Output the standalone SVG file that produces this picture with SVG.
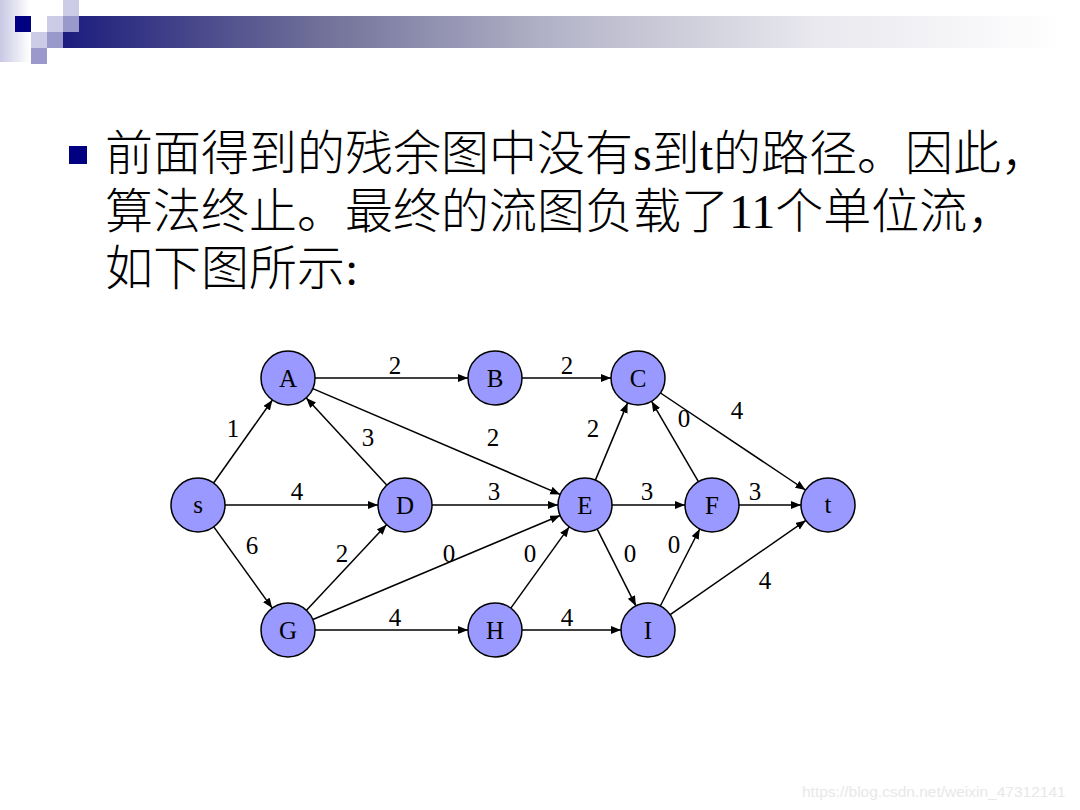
<svg xmlns="http://www.w3.org/2000/svg" width="1080" height="810" viewBox="0 0 1080 810">
<defs>
<linearGradient id="bar" x1="0" y1="0" x2="1" y2="0">
<stop offset="0" stop-color="#1C1C7E"/>
<stop offset="0.25" stop-color="#6E6E98"/>
<stop offset="0.5" stop-color="#B6B6CA"/>
<stop offset="0.75" stop-color="#E8E8EE"/>
<stop offset="1" stop-color="#FFFFFF"/>
</linearGradient>
<linearGradient id="edge" x1="0" y1="0" x2="1" y2="0">
<stop offset="0" stop-color="#C8C8E4"/>
<stop offset="1" stop-color="#FFFFFF"/>
</linearGradient>
<marker id="arr" markerUnits="userSpaceOnUse" markerWidth="11" markerHeight="9" refX="10" refY="4" orient="auto">
<path d="M0,0 L10,4 L0,8 z" fill="#000"/>
</marker>
</defs>
<style>
.node circle{fill:#9999FF;stroke:#000;stroke-width:1.5}
.node text{font-family:"Liberation Serif",serif;font-size:25px;text-anchor:middle;fill:#000}
#connectors line{stroke:#000;stroke-width:1.5;marker-end:url(#arr)}
.lbl{font-family:"Liberation Serif",serif;font-size:25px;text-anchor:middle;fill:#000}
.body{font-family:"Liberation Serif","Noto Sans CJK SC",serif;font-size:48px;fill:#000;font-weight:300}
</style>
<rect width="1080" height="810" fill="#FFFFFF"/>
<g id="header">
<rect x="0" y="0" width="30" height="62" fill="url(#edge)"/>
<rect x="63" y="16" width="1000" height="32" fill="url(#bar)"/>
<rect x="15" y="16" width="16" height="16" fill="#000080"/>
<rect x="47" y="16" width="16" height="16" fill="#CCCCE6"/>
<rect x="63" y="0" width="16" height="16" fill="#CCCCE6"/>
<rect x="63" y="16" width="16" height="16" fill="#9999CC"/>
<rect x="31" y="32" width="16" height="16" fill="#CCCCE6"/>
<rect x="47" y="32" width="16" height="16" fill="#9999CC"/>
<rect x="31" y="48" width="16" height="16" fill="#9999CC"/>
</g>
<g id="text">
<rect x="69" y="146" width="18" height="18" fill="#000080"/>
<text class="body" x="105" y="170">前面得到的残余图中没有s到t的路径。因此，</text>
<text class="body" x="105" y="228">算法终止。最终的流图负载了11个单位流，</text>
<text class="body" x="105" y="285">如下图所示:</text>
</g>
<g id="connectors">
<line x1="315" y1="378" x2="468" y2="378"/>
<line x1="522" y1="378" x2="611" y2="378"/>
<line x1="660.5" y1="393" x2="805.5" y2="490"/>
<line x1="213.6" y1="483" x2="272.4" y2="400"/>
<line x1="386.7" y1="485.1" x2="306.3" y2="397.9"/>
<line x1="312.8" y1="388.6" x2="560.2" y2="494.4"/>
<line x1="595.4" y1="480.1" x2="627.6" y2="402.9"/>
<line x1="698.4" y1="481.7" x2="651.6" y2="401.3"/>
<line x1="225" y1="505" x2="378" y2="505"/>
<line x1="432" y1="505" x2="558" y2="505"/>
<line x1="612" y1="505" x2="685" y2="505"/>
<line x1="739" y1="505" x2="801" y2="505"/>
<line x1="213.8" y1="526.9" x2="272.2" y2="608.1"/>
<line x1="306.5" y1="610.3" x2="386.5" y2="524.7"/>
<line x1="312.9" y1="619.5" x2="560.1" y2="515.5"/>
<line x1="510.8" y1="608.1" x2="569.2" y2="526.9"/>
<line x1="597.2" y1="529.1" x2="635.9" y2="605.9"/>
<line x1="660.3" y1="606" x2="699.7" y2="529"/>
<line x1="670.2" y1="614.6" x2="805.8" y2="520.4"/>
<line x1="315" y1="630" x2="468" y2="630"/>
<line x1="522" y1="630" x2="621" y2="630"/>
</g>
<g id="labels">
<text class="lbl" x="395" y="374">2</text>
<text class="lbl" x="567" y="374">2</text>
<text class="lbl" x="737" y="419">4</text>
<text class="lbl" x="233" y="437">1</text>
<text class="lbl" x="368" y="446">3</text>
<text class="lbl" x="493" y="446">2</text>
<text class="lbl" x="593" y="437">2</text>
<text class="lbl" x="684" y="427">0</text>
<text class="lbl" x="297" y="500">4</text>
<text class="lbl" x="494" y="500">3</text>
<text class="lbl" x="647" y="500">3</text>
<text class="lbl" x="755" y="500">3</text>
<text class="lbl" x="252" y="554">6</text>
<text class="lbl" x="342" y="562">2</text>
<text class="lbl" x="449" y="562">0</text>
<text class="lbl" x="530" y="562">0</text>
<text class="lbl" x="630" y="562">0</text>
<text class="lbl" x="674" y="553">0</text>
<text class="lbl" x="765" y="589">4</text>
<text class="lbl" x="395" y="626">4</text>
<text class="lbl" x="567" y="626">4</text>
</g>
<g id="node-A" class="node"><circle cx="288" cy="378" r="27"/><text x="288" y="387">A</text></g>
<g id="node-B" class="node"><circle cx="495" cy="378" r="27"/><text x="495" y="387">B</text></g>
<g id="node-C" class="node"><circle cx="638" cy="378" r="27"/><text x="638" y="387">C</text></g>
<g id="node-s" class="node"><circle cx="198" cy="505" r="27"/><text x="198" y="513">s</text></g>
<g id="node-D" class="node"><circle cx="405" cy="505" r="27"/><text x="405" y="514">D</text></g>
<g id="node-E" class="node"><circle cx="585" cy="505" r="27"/><text x="585" y="514">E</text></g>
<g id="node-F" class="node"><circle cx="712" cy="505" r="27"/><text x="712" y="514">F</text></g>
<g id="node-t" class="node"><circle cx="828" cy="505" r="27"/><text x="828" y="513">t</text></g>
<g id="node-G" class="node"><circle cx="288" cy="630" r="27"/><text x="288" y="639">G</text></g>
<g id="node-H" class="node"><circle cx="495" cy="630" r="27"/><text x="495" y="639">H</text></g>
<g id="node-I" class="node"><circle cx="648" cy="630" r="27"/><text x="648" y="639">I</text></g>
<text x="802" y="797" font-family="Liberation Sans, sans-serif" font-size="15.5" fill="#E8E8E8">https://blog.csdn.net/weixin_47312141</text>
</svg>
